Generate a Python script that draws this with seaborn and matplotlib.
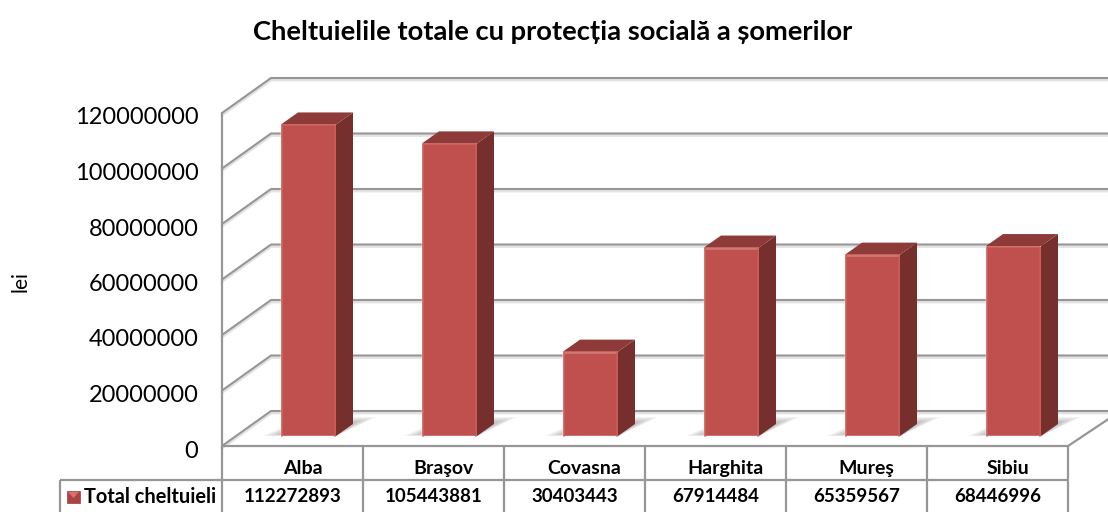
import matplotlib
matplotlib.use("Agg")
import matplotlib.pyplot as plt
import seaborn as sns
import pandas as pd
from matplotlib.lines import Line2D
from matplotlib.patches import Polygon, Rectangle
from matplotlib.transforms import Affine2D, IdentityTransform, blended_transform_factory

judete = ['Alba', 'Braşov', 'Covasna', 'Harghita', 'Mureş', 'Sibiu']
cheltuieli = [112272893, 105443881, 30403443, 67914484, 65359567, 68446996]
y_ticks = [0, 20000000, 40000000, 60000000, 80000000, 100000000, 120000000]

W, H = 1108, 512
df = pd.DataFrame({'judet': judete, 'total': cheltuieli})

sns.set_theme(style='white')
plt.rcParams['font.family'] = ['Lato', 'DejaVu Sans']

fig = plt.figure(figsize=(W / 100, H / 100), dpi=100, facecolor='white')
ax = fig.add_axes([222 / W, (H - 446) / H, 846 / W, 333 / H])
ax.patch.set_alpha(0)

sns.barplot(data=df, x='judet', y='total', color='#c0504d', saturation=1, width=0.39, ax=ax, zorder=5)
ax.set_xlim(-0.5, 5.5)
ax.set_ylim(0, 120000000)
ax.set_xlabel('')
ax.set_ylabel('')
sns.despine(ax=ax, left=True, bottom=True)

ax.set_yticks(y_ticks)
ax.set_yticklabels([str(t) for t in y_ticks], fontsize=17, color='black')
ax.tick_params(axis='y', length=0, pad=17)
ax.tick_params(axis='x', length=0, pad=10)
for lab in ax.get_yticklabels():
    lab.set_transform(lab.get_transform() + Affine2D().translate(0, -3))

# category names sit a bit right of the cell centre in the original
ax.set_xticks(range(len(judete)))
ax.set_xticklabels(judete, fontsize=14, fontweight='bold', color='black')
for lab in ax.get_xticklabels():
    lab.set_transform(lab.get_transform() + Affine2D().translate(10, 0))

px = IdentityTransform()


def to_px(x, y):
    return ax.transData.transform((x, y))


def pline(xs, ys, color='#8c8c8c', lw=1.5, z=1):
    # xs, ys are image pixels counted from the top left
    fig.add_artist(Line2D([x for x in xs], [H - y for y in ys], transform=px,
                          color=color, lw=lw, zorder=z, solid_capstyle='butt'))


###Walls and floor###
wall_dx, wall_dy = 49, 35
for t in y_ticks:
    x0, y0 = to_px(-0.5, t)
    ax.add_line(Line2D([x0, x0 + wall_dx, W + 5], [y0 - 2, y0 + wall_dy - 2, y0 + wall_dy - 2], transform=px,
                       color='#e2e2e2', lw=2, zorder=1, clip_on=False))
    ax.add_line(Line2D([x0, x0 + wall_dx, W + 5], [y0, y0 + wall_dy, y0 + wall_dy], transform=px,
                       color='#969696', lw=1.5, zorder=2, clip_on=False))

x_l, y_b = to_px(-0.5, 0)
x_r, _ = to_px(5.5, 0)
_, y_t = to_px(-0.5, 120000000)
ax.add_line(Line2D([x_l, x_l], [y_b, y_t], transform=px, color='#969696', lw=1.6, zorder=2, clip_on=False))
ax.add_line(Line2D([x_l, x_r, W + 5], [y_b, y_b, y_b + 30], transform=px, color='#969696', lw=1.6, zorder=2, clip_on=False))

###3D bars###
bar_dx, bar_dy = 16, 10
depth_x, depth_y = 17, 12
bars = list(ax.patches)
for bar in bars:
    x0, y0 = to_px(bar.get_x(), 0)
    x1, y1 = to_px(bar.get_x() + bar.get_width(), bar.get_height())
    x0, x1 = x0 + bar_dx, x1 + bar_dx
    y0, y1 = y0 + bar_dy, y1 + bar_dy

    # soft floor shadow
    for i in range(7):
        s = i * 3.2
        ax.add_patch(Polygon([(x0 - 18 + s, y0 + s * 0.1), (x1, y0), (x1 + 40 - s * 1.2, y0 + 19 - s * 0.3),
                              (x0 + 25, y0 + 19 - s * 0.3)],
                             transform=px, fc='#606060', ec='none', alpha=0.075, zorder=3, clip_on=False))

    bar.set_transform(ax.transData + Affine2D().translate(bar_dx, bar_dy))
    bar.set_clip_on(False)

    ax.add_patch(Polygon([(x1, y0), (x1 + depth_x, y0 + depth_y), (x1 + depth_x, y1 + depth_y), (x1, y1)],
                         transform=px, fc='#772f2d', ec='none', zorder=5, clip_on=False))
    ax.add_patch(Polygon([(x0, y1), (x1, y1), (x1 + depth_x, y1 + depth_y), (x0 + depth_x, y1 + depth_y)],
                         transform=px, fc='#8e3a38', ec='none', zorder=5, clip_on=False))
    # lighter bevel round the front face
    ax.add_line(Line2D([x0 + 0.5, x0 + 0.5, x1 - 0.5, x1 - 0.5], [y0, y1 - 0.5, y1 - 0.5, y0], transform=px,
                       color='#c95a57', lw=1.2, zorder=6, clip_on=False))

###Data table###
grey = '#969696'
cell_edges = [ax.transData.transform((i - 0.5, 0))[0] for i in range(len(judete) + 1)]
for xe in cell_edges:
    pline([xe, xe], [446, H], color=grey, lw=1.6)
pline([60, 1068], [479.5, 479.5], color=grey, lw=1.6)
pline([60, 60], [479.5, H], color=grey, lw=1.6)

row_y = blended_transform_factory(ax.transData, px)
for i, v in enumerate(cheltuieli):
    ax.text(i, H - 497, str(v), transform=row_y, ha='center', va='center',
            fontsize=13.5, fontweight='bold', color='black', clip_on=False)

fig.text(84 / W, (H - 497) / H, 'Total cheltuieli', ha='left', va='center',
         fontsize=14.4, fontweight='bold', color='black')

# legend key
fig.add_artist(Rectangle((67, H - 503), 13, 12, transform=px, fc='#a94441', ec='#9a3d3b', lw=0.5))
fig.add_artist(Polygon([(68, H - 492), (79, H - 492), (73.5, H - 498)], transform=px, fc='#d9716e', ec='none'))

###Title and axis label###
fig.text(553 / W, (H - 32) / H, 'Cheltuielile totale cu protecția socială a șomerilor', ha='center', va='center',
         fontsize=19.7, fontweight='bold', color='black')
fig.text(20 / W, (H - 282) / H, 'lei', rotation=90, ha='center', va='center', fontsize=15, color='black')

fig.savefig('out.png', dpi=100, facecolor='white')
